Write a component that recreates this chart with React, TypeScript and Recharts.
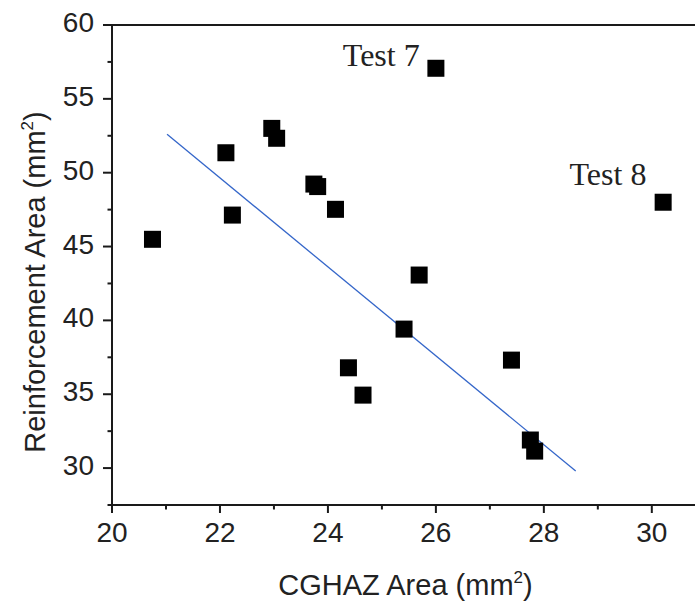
import {
  ScatterChart,
  Scatter,
  XAxis,
  YAxis,
  ReferenceLine,
  ReferenceDot,
  Label,
} from "recharts";

// CGHAZ area (mm²) vs reinforcement area (mm²)
const cghaz = [
  20.75, 22.11, 22.23, 22.96, 23.05, 23.74, 23.81, 24.14, 24.38, 24.65,
  25.41, 25.69, 26.0, 27.4, 27.75, 27.83, 30.21,
];
const reinforcement = [
  45.49, 51.35, 47.13, 53.0, 52.33, 49.23, 49.06, 47.52, 36.79, 34.94,
  39.41, 43.07, 57.07, 37.31, 31.9, 31.15, 48.0,
];

// linear fit end points
const fitX = [21.02, 28.59];
const fitY = [52.6, 29.8];

const xTicks = [20, 21, 22, 23, 24, 25, 26, 27, 28, 29, 30];
const yTicks = [27.5, 30, 32.5, 35, 37.5, 40, 42.5, 45, 47.5, 50, 52.5, 55, 57.5, 60];

const notes = [
  { text: "Test 7", x: 25.7, y: 57.22 },
  { text: "Test 8", x: 29.9, y: 49.17 },
];

const points = cghaz.map((x, i) => ({ x, y: reinforcement[i] }));
const fit = fitX.map((x, i) => ({ x, y: fitY[i] }));

const SANS = "'Liberation Sans', Arial, sans-serif";
const SERIF = "'Liberation Serif', 'Times New Roman', serif";
const INK = "#1a1a1a";

function YTick(props: any) {
  const { x, y, payload } = props;
  const major = payload.value % 5 === 0;
  const axisX = x + 18;
  return (
    <g>
      <line x1={axisX - (major ? 9 : 4.5)} x2={axisX} y1={y} y2={y} stroke={INK} strokeWidth={2} />
      {major && (
        <text x={x} y={y + 7} textAnchor="end" fontSize={28} fontFamily={SANS} fill="#222">
          {payload.value}
        </text>
      )}
    </g>
  );
}

function XTick(props: any) {
  const { x, y, payload } = props;
  const major = payload.value % 2 === 0;
  const axisY = y - 16;
  return (
    <g>
      <line x1={x} x2={x} y1={axisY} y2={axisY + (major ? 8 : 4.5)} stroke={INK} strokeWidth={2} />
      {major && (
        <text x={x} y={y + 21} textAnchor="middle" fontSize={28} fontFamily={SANS} fill="#222">
          {payload.value}
        </text>
      )}
    </g>
  );
}

function Square(props: any) {
  const { cx, cy } = props;
  return <rect x={cx - 8.5} y={cy - 8.5} width={17} height={17} fill="#000" />;
}

export default function App() {
  return (
    <div style={{ position: "absolute", left: 0, top: 0, background: "#fff" }}>
      <ScatterChart
        width={695}
        height={603}
        margin={{ top: 25, right: 0, left: 0, bottom: 0 }}
      >
        <XAxis
          type="number"
          dataKey="x"
          domain={[20, 30.8]}
          ticks={xTicks}
          allowDataOverflow
          height={98}
          tickSize={8}
          tickMargin={8}
          tickLine={false}
          tick={<XTick />}
          stroke={INK}
          strokeWidth={2}
        >
          <Label
            content={(p: any) => {
              const vb = p.viewBox;
              return (
                <text
                  x={vb.x + vb.width / 2 + 2}
                  y={vb.y + 90}
                  textAnchor="middle"
                  fontSize={29}
                  fontFamily={SANS}
                  fill="#222"
                >
                  CGHAZ Area (mm
                  <tspan fontSize={17} dy={-12}>2</tspan>
                  <tspan dy={12}>)</tspan>
                </text>
              );
            }}
          />
        </XAxis>
        <YAxis
          type="number"
          dataKey="y"
          domain={[27.5, 60]}
          ticks={yTicks}
          allowDataOverflow
          width={112}
          tickSize={9}
          tickMargin={9}
          tickLine={false}
          tick={<YTick />}
          stroke={INK}
          strokeWidth={2}
        >
          <Label
            content={(p: any) => {
              const vb = p.viewBox;
              const cx = 45;
              const cy = vb.y + vb.height / 2 + 17;
              return (
                <text
                  x={cx}
                  y={cy}
                  transform={`rotate(-90, ${cx}, ${cy})`}
                  textAnchor="middle"
                  fontSize={29}
                  fontFamily={SANS}
                  fill="#222"
                >
                  Reinforcement Area (mm
                  <tspan fontSize={17} dy={-12}>2</tspan>
                  <tspan dy={12}>)</tspan>
                </text>
              );
            }}
          />
        </YAxis>
        <ReferenceLine y={60} stroke={INK} strokeWidth={2} />
        <Scatter
          data={fit}
          line={{ stroke: "#3466c9", strokeWidth: 1.3 }}
          shape={() => <g />}
          isAnimationActive={false}
        />
        <Scatter data={points} shape={<Square />} isAnimationActive={false} />
        {notes.map((n) => (
          <ReferenceDot
            key={n.text}
            x={n.x}
            y={n.y}
            r={0}
            shape={(p: any) => (
              <text
                x={p.cx}
                y={p.cy}
                textAnchor="end"
                fontSize={32}
                fontFamily={SERIF}
                fill="#222"
              >
                {n.text}
              </text>
            )}
          />
        ))}
      </ScatterChart>
    </div>
  );
}
